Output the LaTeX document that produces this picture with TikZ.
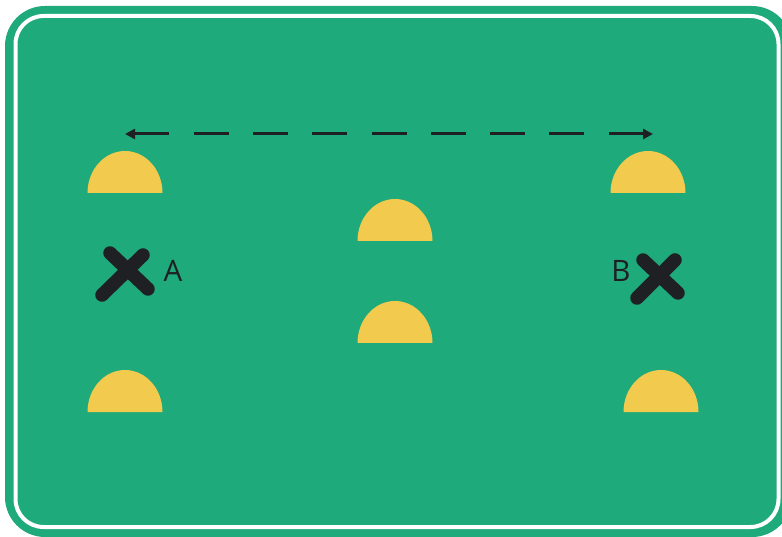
\documentclass[tikz,border=0pt]{standalone}
\usepackage{fontspec}
\setsansfont{Open Sans}
\usepackage{xcolor}
\usepackage{tikz}
\usetikzlibrary{arrows.meta, positioning}
\definecolor{pitch}{RGB}{30,170,122}
\definecolor{cone}{RGB}{241,202,78}
\definecolor{ink}{RGB}{30,32,36}

\begin{document}
\begin{tikzpicture}[x=1pt,y=1pt]
\tikzset{
  dm/.style={fill=cone,draw=none},
  xm/.style={draw=ink,line width=13.5pt,line cap=round},
  ar/.style={{Triangle[length=10pt,width=10pt]}-{Triangle[length=10pt,width=10pt]},draw=ink,line width=3pt,dash pattern=on 35pt off 24.3pt},
  lb/.style={font=\sffamily\fontsize{29.5}{30}\selectfont,text=ink,inner sep=0pt}
}
\useasboundingbox (0,0) rectangle (782,536);
% field
\fill[pitch,rounded corners=40pt] (5,-1) rectangle (792,530);
\draw[white,line width=4pt,rounded corners=28pt] (15.5,9) rectangle (778.5,520);
% cones
\fill[dm] (87.5,343) arc[start angle=180,end angle=0,x radius=37.5,y radius=42] -- cycle;
\fill[dm] (610.5,343) arc[start angle=180,end angle=0,x radius=37.5,y radius=42] -- cycle;
\fill[dm] (357.5,295) arc[start angle=180,end angle=0,x radius=37.5,y radius=42] -- cycle;
\fill[dm] (357.5,193) arc[start angle=180,end angle=0,x radius=37.5,y radius=42] -- cycle;
\fill[dm] (87.5,124) arc[start angle=180,end angle=0,x radius=37.5,y radius=42] -- cycle;
\fill[dm] (623.5,124) arc[start angle=180,end angle=0,x radius=37.5,y radius=42] -- cycle;
% run
\coordinate (arrL) at (125,402);
\coordinate (arrR) at (653,402);
\draw[ar] (arrL) -- (arrR);
% players
\draw[xm] (110,283) -- (148,247);
\draw[xm] (143,281) -- (102,241);
\draw[xm] (643,276) -- (678,243);
\draw[xm] (675,276) -- (637,238);
\node[lb] (labA) at (173,265) {A};
\node[lb] (labB) at (621,265.5) {B};
\end{tikzpicture}
\end{document}
